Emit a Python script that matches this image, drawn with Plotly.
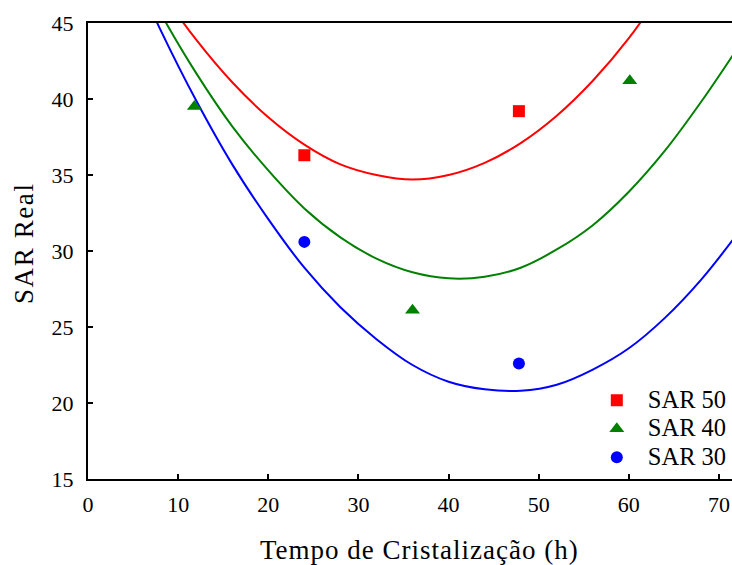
import plotly.graph_objects as go

# Measured data points
x_sar50 = [24, 47.8]
y_sar50 = [36.3, 39.2]
x_sar40 = [11.8, 36, 60.1]
y_sar40 = [39.5, 26.1, 41.2]
x_sar30 = [24, 47.8]
y_sar30 = [30.6, 22.6]

# Fitted curves
x_curve = [4, 8, 12, 16, 20, 24, 28, 32, 36, 40, 44, 48, 52, 56, 60, 64, 68, 72]
y_curve50 = [51.0, 47.2, 43.9, 41.1, 38.8, 37.0, 35.7, 35.0, 34.7, 35.0, 35.8, 37.1, 38.9, 41.2, 44.0, 47.4, 51.2, 55.3]
y_curve40 = [50.2, 45.7, 41.7, 38.2, 35.3, 32.8, 30.9, 29.5, 28.6, 28.2, 28.3, 28.9, 30.1, 31.7, 33.9, 36.6, 39.8, 43.3]
y_curve30 = [49.8, 44.6, 39.9, 35.7, 32.1, 28.9, 26.3, 24.2, 22.5, 21.4, 20.9, 20.8, 21.2, 22.2, 23.6, 25.6, 28.1, 31.1]

names = ["SAR 50", "SAR 40", "SAR 30"]
colors = ["#ff0000", "#008000", "#0000ff"]
symbols = ["square", "triangle-up", "circle"]
x_title = "Tempo de Cristalização (h)"
y_title = "SAR Real"

FONT = "Liberation Serif, Times New Roman, serif"

fig = go.Figure()
for yc, c in zip([y_curve50, y_curve40, y_curve30], colors):
    fig.add_trace(go.Scatter(x=x_curve, y=yc, mode="lines", line=dict(color=c, width=2, shape="spline"),
                             showlegend=False, hoverinfo="skip"))

for xs, ys, n, c, s in zip([x_sar50, x_sar40, x_sar30], [y_sar50, y_sar40, y_sar30], names, colors, symbols):
    fig.add_trace(go.Scatter(x=xs, y=ys, mode="markers",
                             name='<span style="font-size:24.5px">' + n + '</span>',
                             marker=dict(color=c, symbol=s, size=12 if s != "triangle-up" else 13,
                                         line=dict(width=0))))

fig.update_layout(
    width=732, height=565,
    margin=dict(l=88, r=0, t=23, b=86),
    plot_bgcolor="white", paper_bgcolor="white",
    font=dict(family=FONT, size=22, color="black"),
    showlegend=True,
    legend=dict(x=0.773, y=0.215, xanchor="left", yanchor="top", bgcolor="rgba(0,0,0,0)",
                itemwidth=52, traceorder="normal",
                font=dict(family=FONT, size=19.6, color="black")),
    xaxis=dict(range=[0, 71.44], tickvals=[0, 10, 20, 30, 40, 50, 60, 70],
               showline=True, linecolor="black", linewidth=2, mirror=True,
               ticks="inside", ticklen=5, tickwidth=2, tickcolor="black",
               showgrid=False, zeroline=False, ticklabelstandoff=5,
               tickfont=dict(family=FONT, size=22)),
    yaxis=dict(range=[15, 45], tickvals=[15, 20, 25, 30, 35, 40, 45],
               showline=True, linecolor="black", linewidth=2,
               ticks="inside", ticklen=5, tickwidth=2, tickcolor="black",
               showgrid=False, zeroline=False, ticklabelstandoff=8,
               tickfont=dict(family=FONT, size=22)),
    annotations=[
        dict(text='<span style="letter-spacing:1px">' + x_title + '</span>',
             xref="paper", yref="paper", x=0.5155, y=-0.1557, xanchor="center", yanchor="middle",
             showarrow=False, font=dict(family=FONT, size=27, color="black")),
        dict(text='<span style="letter-spacing:1.6px">' + y_title + '</span>',
             xref="paper", yref="paper", x=-0.0994, y=0.5175, xanchor="center", yanchor="middle",
             textangle=-90, showarrow=False, font=dict(family=FONT, size=27, color="black")),
    ],
)

fig.write_html("out.html")
